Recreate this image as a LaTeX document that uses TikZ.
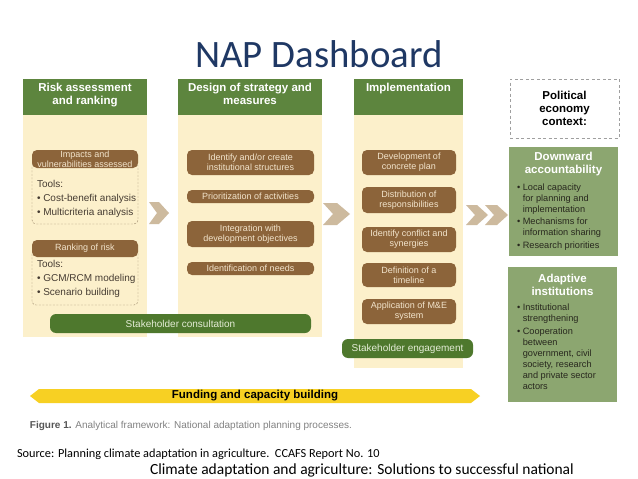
\documentclass[tikz,border=0pt]{standalone}
\usepackage{fontspec}
\setmainfont{Liberation Sans}
\newfontfamily\carlito{Carlito}
\definecolor{hdrgreen}{RGB}{93,133,62}
\definecolor{beige}{RGB}{252,240,203}
\definecolor{brownc}{RGB}{140,100,58}
\definecolor{browntxt}{RGB}{242,228,204}
\definecolor{dashc}{RGB}{150,130,100}
\definecolor{tooltc}{RGB}{70,60,50}
\definecolor{stakec}{RGB}{78,120,45}
\definecolor{staketxt}{RGB}{228,236,214}
\definecolor{rgreen}{RGB}{140,166,112}
\definecolor{rtxtc}{RGB}{40,40,30}
\definecolor{chevc}{RGB}{205,186,158}
\definecolor{fundc}{RGB}{247,208,35}
\definecolor{navy}{RGB}{31,56,100}
\definecolor{capgray}{RGB}{130,130,130}
\definecolor{capdark}{RGB}{85,85,85}
\tikzset{
  hdr/.style={fill=hdrgreen, inner sep=0pt, anchor=north west},
  hdrtxt/.style={text=white, font=\bfseries\fontsize{11.5}{13}\selectfont, align=center, anchor=north, inner sep=0pt},
  colbg/.style={fill=beige, inner sep=0pt, anchor=north west},
  bbox/.style={fill=brownc, rounded corners=5pt, text=browntxt, font=\fontsize{9}{10}\selectfont, align=center, inner xsep=2pt, inner ysep=0.5pt, anchor=north west},
  toolsbox/.style={draw=dashc, dashed, dash pattern=on 2pt off 1.5pt, rounded corners=4pt, anchor=north west, inner sep=0pt},
  tooltxt/.style={text=tooltc, font=\fontsize{10}{14}\selectfont, align=left, anchor=north west, inner sep=0pt},
  gbar/.style={fill=stakec, rounded corners=6pt, text=staketxt, font=\fontsize{10}{12}\selectfont, anchor=north west, inner sep=0pt},
  rbox/.style={fill=rgreen, anchor=north west, inner sep=0pt},
  rhead/.style={text=white, font=\bfseries\fontsize{11.5}{13}\selectfont, align=center, anchor=north, inner sep=0pt},
  rtxt/.style={text=rtxtc, font=\fontsize{9.2}{11}\selectfont, align=left, anchor=north west, inner sep=0pt},
  chev/.style={fill=chevc},
  every node/.append style={outer sep=0pt}
}
\newcommand\bsp{\phantom{\textbullet\ }}
\begin{document}
\begin{tikzpicture}[x=1pt,y=-1pt]
\useasboundingbox (0,0) rectangle (638,479);
\fill[white] (0,0) rectangle (638,479);

\node[font=\carlito\fontsize{38.8}{42}\selectfont, text=navy, anchor=base, inner sep=0pt] (title) at (319,67) {NAP Dashboard};

% column backgrounds and headers
\node[colbg, minimum width=124pt, minimum height=222pt] (c1) at (23,115) {};
\node[colbg, minimum width=144pt, minimum height=222pt] (c2) at (178,115) {};
\node[colbg, minimum width=109pt, minimum height=253pt] (c3) at (354,115) {};
\node[hdr, minimum width=124pt, minimum height=36pt] (h1) at (23,79) {};
\node[hdrtxt] (h1t) at (85,83) {Risk assessment\\and ranking};
\node[hdr, minimum width=144pt, minimum height=36pt] (h2) at (178,79) {};
\node[hdrtxt] (h2t) at (250,83) {Design of strategy and\\measures};
\node[hdr, minimum width=109pt, minimum height=36pt] (h3) at (354,79) {};
\node[hdrtxt] (h3t) at (408.5,83) {Implementation};

% column 1
\node[toolsbox, minimum width=106pt, minimum height=62pt] (t1) at (32,162) {};
\node[bbox, minimum width=106pt, minimum height=18pt] (ia) at (32,150) {Impacts and\\vulnerabilities assessed};
\node[tooltxt] (t1t) at (37,180) {Tools:\\\textbullet\ Cost-benefit analysis\\\textbullet\ Multicriteria analysis};
\node[toolsbox, minimum width=106pt, minimum height=56pt] (t2) at (32,249) {};
\node[bbox, minimum width=106pt, minimum height=17pt] (rr) at (32,240) {Ranking of risk};
\node[tooltxt] (t2t) at (37,260) {Tools:\\\textbullet\ GCM/RCM modeling\\\textbullet\ Scenario building};
\node[gbar, minimum width=261pt, minimum height=19pt] (sc) at (50,314) {Stakeholder consultation};

% column 2
\node[bbox, minimum width=127pt, minimum height=25pt] (i1) at (187,150) {Identify and/or create\\institutional structures};
\node[bbox, minimum width=127pt, minimum height=13pt] (i2) at (187,190) {Prioritization of activities};
\node[bbox, minimum width=127pt, minimum height=26pt] (i3) at (187,221) {Integration with\\development objectives};
\node[bbox, minimum width=127pt, minimum height=13pt] (i4) at (187,262) {Identification of needs};

% column 3
\node[bbox, minimum width=94pt, minimum height=25pt] (j1) at (362,150) {Development of\\concrete plan};
\node[bbox, minimum width=94pt, minimum height=26pt] (j2) at (362,187) {Distribution of\\responsibilities};
\node[bbox, minimum width=94pt, minimum height=25pt] (j3) at (362,227) {Identify conflict and\\synergies};
\node[bbox, minimum width=94pt, minimum height=24pt] (j4) at (362,263) {Definition of a\\timeline};
\node[bbox, minimum width=94pt, minimum height=25pt] (j5) at (362,299) {Application of M\&E\\system};
\node[gbar, minimum width=131pt, minimum height=19pt] (se) at (342,339) {Stakeholder engagement};

% right side
\node[draw=gray!75, dash pattern=on 3pt off 2.5pt, anchor=north west, minimum width=109pt, minimum height=59pt, inner sep=0pt, font=\bfseries\fontsize{11.5}{13}\selectfont, align=center] (pe) at (510,79) {Political\\economy\\context:};
\node[rbox, minimum width=109pt, minimum height=109pt] (da) at (509,147) {};
\node[rhead] (dah) at (563.5,152) {Downward\\accountability};
\node[rtxt] (dat) at (517,183.5) {\textbullet\ Local capacity\\\bsp for planning and\\\bsp implementation\\[1.5pt]\textbullet\ Mechanisms for\\\bsp information sharing\\[1.5pt]\textbullet\ Research priorities};
\node[rbox, minimum width=109pt, minimum height=135pt] (ai) at (508,267) {};
\node[rhead] (aih) at (562.5,274) {Adaptive\\institutions};
\node[rtxt] (ait) at (517,303.5) {\textbullet\ Institutional\\\bsp strengthening\\[2pt]\textbullet\ Cooperation\\\bsp between\\\bsp government, civil\\\bsp society, research\\\bsp and private sector\\\bsp actors};

% chevrons
\fill[chev] (149,202) -- (159,202) -- (169,213) -- (159,224) -- (149,224) -- (157,213) -- cycle;
\fill[chev] (323,203) -- (337,203) -- (350,214) -- (337,225) -- (323,225) -- (333,214) -- cycle;
\fill[chev] (466,205) -- (477,205) -- (488,215) -- (477,225) -- (466,225) -- (475,215) -- cycle;
\fill[chev] (485,205) -- (497,205) -- (508,215) -- (497,225) -- (485,225) -- (494,215) -- cycle;

% funding arrow
\fill[fundc] (30,396) -- (39,389) -- (471,389) -- (480,396) -- (471,403) -- (39,403) -- cycle;
\node[font=\bfseries\fontsize{11.5}{13}\selectfont, inner sep=0pt] (fund) at (255,396) {Funding and capacity building};

% captions
\node[anchor=base west, font=\fontsize{10}{12}\selectfont, text=capgray, inner sep=0pt] (cap) at (30,428) {\textcolor{capdark}{\textbf{Figure 1.}} Analytical framework: National adaptation planning processes.};
\node[anchor=base west, font=\carlito\fontsize{12.3}{14}\selectfont, inner sep=0pt] (src) at (17,457) {Source: Planning climate adaptation in agriculture.\ \ CCAFS Report No. 10};
\node[anchor=base west, font=\carlito\fontsize{15.5}{17}\selectfont, inner sep=0pt] (sub) at (150,474.5) {Climate adaptation and agriculture: Solutions to successful national};
\end{tikzpicture}
\end{document}
